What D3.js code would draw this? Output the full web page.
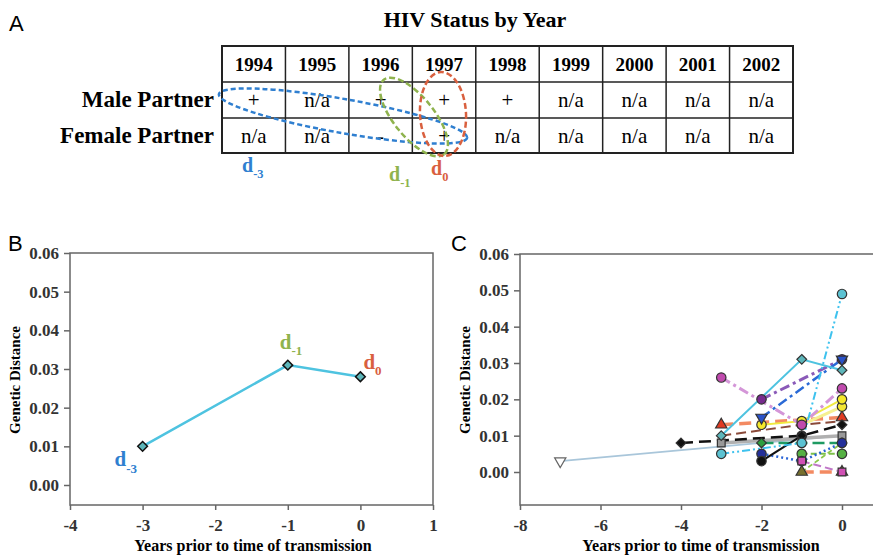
<!DOCTYPE html>
<html>
<head>
<meta charset="utf-8">
<script src="https://cdn.jsdelivr.net/npm/d3@7"></script>
<style>
  body { margin: 0; background: #fff; }
  svg { display: block; }
  text { font-family: 'Liberation Serif', 'DejaVu Serif', serif; }
  .panel-letter { font-family: 'Liberation Sans', Arial, sans-serif; font-size: 22px; }
</style>
</head>
<body>
<svg id="chart" width="873" height="555"></svg>
<script>
'use strict';

// ---- panel A: HIV status table
const years = ['1994', '1995', '1996', '1997', '1998', '1999', '2000', '2001', '2002'];
const rowLabels = ['Male Partner', 'Female Partner'];
const maleStatus = ['+', 'n/a', '+', '+', '+', 'n/a', 'n/a', 'n/a', 'n/a'];
const femaleStatus = ['n/a', 'n/a', '-', '+', 'n/a', 'n/a', 'n/a', 'n/a', 'n/a'];

// ---- panel B: one couple
const coupleYears = [-3, -1, 0];
const coupleDist = [0.010, 0.031, 0.028];
const coupleLabels = ['-3', '-1', '0'];

// ---- panel C: all couples, [years prior, genetic distance]
const cyanSolid = [[-3, 0.010], [-1, 0.031], [0, 0.028]];
const cyanDashDot = [[-3, 0.005], [-1, 0.008], [0, 0.049]];
const pinkDashDot = [[-3, 0.026], [-1, 0.013], [0, 0.023]];
const purpleDashDot = [[-2, 0.020], [0, 0.031]];
const blueDashDot = [[-2, 0.015], [0, 0.031]];
const yellowSolid = [[-2, 0.013], [-1, 0.014], [0, 0.020]];
const yellowLight = [[-1, 0.013], [0, 0.018]];
const orangeDash = [[-3, 0.013], [0, 0.015]];
const brownDash = [[-3, 0.010], [-1, 0.013], [0, 0.014]];
const blackDash = [[-4, 0.008], [-1, 0.010], [0, 0.013]];
const blackSolid = [[-2, 0.003], [-1, 0.010]];
const greySolid = [[-3, 0.008], [0, 0.010]];
const paleBlue = [[-7, 0.003], [0, 0.010]];
const greenDash = [[-2, 0.008], [0, 0.008]];
const lightGreenDash = [[-1, 0.005], [0, 0.005]];
const greenZigzag = [[-1, 0.000], [0, 0.008]];
const blueDotted = [[-2, 0.005], [-1, 0.003], [0, 0.008]];
const violetDash = [[-1, 0.003], [0, 0.000]];
const orangeBottom = [[-1, 0.000], [0, 0.000]];

const yTicks = [0, 0.01, 0.02, 0.03, 0.04, 0.05, 0.06];
const xTicksB = [-4, -3, -2, -1, 0, 1];
const xTicksC = [-8, -6, -4, -2, 0];

const colD3 = '#2f7fd0', colD1 = '#8fb34e', colD0 = '#d9603f';

// series -> style (draw order = list order)
const seriesC = [
  [paleBlue, { c: '#a9c6da', w: 1.8, dash: null, m: 'triDown', f: '#fff', only: [-7] }],
  [greySolid, { c: '#b0b0b0', w: 3.5, dash: null, m: 'square', f: '#999' }],
  [orangeBottom, { c: '#f38a62', w: 3.5, dash: '12,6', m: 'triUp', f: '#77702e' }],
  [orangeDash, { c: '#f38a62', w: 3.5, dash: '12,6', m: 'triUp', f: '#e03a22' }],
  [brownDash, { c: '#8a4a3a', w: 2, dash: '10,5', m: null }],
  [yellowLight, { c: '#f6f090', w: 3, dash: null, m: 'circle', f: '#f2e634' }],
  [yellowSolid, { c: '#f0ea40', w: 2, dash: null, m: 'circle', f: '#f5e82a' }],
  [greenDash, { c: '#1e9a62', w: 2.5, dash: '12,5', m: 'diamond', f: '#2e9e40' }],
  [lightGreenDash, { c: '#7cc04a', w: 2, dash: '6,3', m: 'circle', f: '#55b043' }],
  [greenZigzag, { c: '#8cc84c', w: 1.8, dash: '5,3', m: null }],
  [blueDotted, { c: '#2a64d6', w: 2.5, dash: '2,3', m: 'circle', f: '#24309a' }],
  [violetDash, { c: '#c078c8', w: 2, dash: '8,4', m: 'square', f: '#d050b4' }],
  [blackSolid, { c: '#111', w: 2, dash: null, m: 'circle', f: '#111' }],
  [blackDash, { c: '#111', w: 2.5, dash: '12,6', m: 'diamond', f: '#111' }],
  [pinkDashDot, { c: '#d496d8', w: 3, dash: '10,4,3,4', m: 'circle', f: '#c04aae' }],
  [purpleDashDot, { c: '#8a5ab8', w: 3, dash: '10,4,3,4', m: 'circle', f: '#782a8e' }],
  [blueDashDot, { c: '#2a6ad6', w: 2.5, dash: '10,4,3,4', m: 'triDown', f: '#2a52c8' }],
  [cyanDashDot, { c: '#3ec2ee', w: 2, dash: '8,3,2,3,2,3', m: 'circle', f: '#5cc2d2' }],
  [cyanSolid, { c: '#4ec3e0', w: 2, dash: null, m: 'diamond', f: '#5db6ba' }]
];

const svg = d3.select('#chart');

// ================= PANEL A =================
svg.append('text').attr('class', 'panel-letter').attr('x', 9).attr('y', 31).text('A');
svg.append('text')
  .attr('x', 475).attr('y', 27)
  .attr('text-anchor', 'middle')
  .style('font-weight', 'bold').style('font-size', '22px')
  .text('HIV Status by Year');

const tableX = d3.scaleBand().domain(years).range([222, 793]);
const rowEdges = [46, 82, 118, 153];
const table = svg.append('g');

table.append('rect')
  .attr('x', tableX.range()[0]).attr('y', rowEdges[0])
  .attr('width', tableX.range()[1] - tableX.range()[0])
  .attr('height', rowEdges[3] - rowEdges[0])
  .attr('fill', 'none').attr('stroke', '#222').attr('stroke-width', 2);
years.slice(1).forEach(y => {
  table.append('line')
    .attr('x1', tableX(y)).attr('x2', tableX(y))
    .attr('y1', rowEdges[0]).attr('y2', rowEdges[3])
    .attr('stroke', '#222').attr('stroke-width', 1.5);
});
rowEdges.slice(1, 3).forEach(r => {
  table.append('line')
    .attr('x1', tableX.range()[0]).attr('x2', tableX.range()[1])
    .attr('y1', r).attr('y2', r)
    .attr('stroke', '#222').attr('stroke-width', 1.5);
});

table.selectAll('.year')
  .data(years).enter().append('text')
  .attr('x', d => tableX(d) + tableX.bandwidth() / 2)
  .attr('y', (rowEdges[0] + rowEdges[1]) / 2 + 7)
  .attr('text-anchor', 'middle')
  .style('font-weight', 'bold').style('font-size', '19px')
  .text(d => d);

[maleStatus, femaleStatus].forEach((row, i) => {
  const cy = (rowEdges[i + 1] + rowEdges[i + 2]) / 2 + 7;
  table.append('text')
    .attr('x', 214).attr('y', cy)
    .attr('text-anchor', 'end')
    .style('font-weight', 'bold').style('font-size', '23px')
    .text(rowLabels[i]);
  table.selectAll('.cell' + i)
    .data(row).enter().append('text')
    .attr('x', (d, j) => tableX(years[j]) + tableX.bandwidth() / 2)
    .attr('y', cy)
    .attr('text-anchor', 'middle')
    .style('font-size', '21px')
    .text(d => d);
});

// ellipses marking d-3, d-1, d0
const ellipses = [
  { cx: 343, cy: 116, rx: 126, ry: 17, rot: 10, c: colD3, dash: '5,3' },
  { cx: 414, cy: 117, rx: 48, ry: 20, rot: 51, c: colD1, dash: '6,3' },
  { cx: 443, cy: 114, rx: 23, ry: 42, rot: -3, c: colD0, dash: '6,3' }
];
ellipses.forEach(e => {
  svg.append('ellipse')
    .attr('transform', `translate(${e.cx},${e.cy}) rotate(${e.rot})`)
    .attr('rx', e.rx).attr('ry', e.ry)
    .attr('fill', 'none').attr('stroke', e.c)
    .attr('stroke-width', 2.5).attr('stroke-dasharray', e.dash);
});

function dLabel(g, x, y, sub, color, size) {
  const t = g.append('text')
    .attr('x', x).attr('y', y)
    .attr('fill', color)
    .style('font-weight', 'bold').style('font-size', size + 'px');
  t.append('tspan').text('d');
  t.append('tspan').attr('dy', size * 0.3).style('font-size', (size * 0.62) + 'px').text(sub);
  return t;
}
dLabel(svg, 242, 172, '-3', colD3, 20);
dLabel(svg, 389, 181, '-1', colD1, 20);
dLabel(svg, 431, 175, '0', colD0, 20);

// ================= shared axes helper =================
function drawFrame(g, x, y, xTicks, left, top, right, bottom) {
  g.append('rect')
    .attr('x', left).attr('y', top)
    .attr('width', right - left).attr('height', bottom - top)
    .attr('fill', 'none').attr('stroke', '#666').attr('stroke-width', 1.5);

  const yAxis = g.append('g')
    .attr('transform', `translate(${left},0)`)
    .call(d3.axisLeft(y).tickValues(yTicks).tickFormat(d => d.toFixed(2)).tickSize(6).tickPadding(5));
  const xAxis = g.append('g')
    .attr('transform', `translate(0,${bottom})`)
    .call(d3.axisBottom(x).tickValues(xTicks).tickFormat(d => String(d)).tickSize(5).tickPadding(6));
  [yAxis, xAxis].forEach(a => {
    a.attr('font-family', null).attr('font-size', null);
    a.select('.domain').remove();
    a.selectAll('.tick line').attr('stroke', '#666').attr('stroke-width', 1.5);
    a.selectAll('.tick text')
      .attr('fill', '#333')
      .style('font-family', "'Liberation Serif', serif")
      .style('font-weight', 'bold')
      .style('font-size', '17px');
  });
  xAxis.selectAll('.tick text').attr('dy', '0.9em');
}

function axisTitles(g, yLabelX, yCenter, xCenter, xLabelY) {
  g.append('text')
    .attr('transform', `translate(${yLabelX},${yCenter}) rotate(-90)`)
    .attr('text-anchor', 'middle')
    .style('font-weight', 'bold').style('font-size', '15px')
    .text('Genetic Distance');
  g.append('text')
    .attr('x', xCenter).attr('y', xLabelY)
    .attr('text-anchor', 'middle')
    .style('font-weight', 'bold').style('font-size', '16px')
    .text('Years prior to time of transmission');
}

const symbols = {
  circle: d3.symbol().type(d3.symbolCircle).size(70),
  diamond: d3.symbol().type(d3.symbolDiamond2).size(60),
  square: d3.symbol().type(d3.symbolSquare).size(60),
  triUp: d3.symbol().type(d3.symbolTriangle).size(55)
};

function markerPath(kind) {
  if (kind === 'triDown') return symbols.triUp();
  return symbols[kind]();
}

// ================= PANEL B =================
svg.append('text').attr('class', 'panel-letter').attr('x', 8).attr('y', 251).text('B');
const gB = svg.append('g');
const xB = d3.scaleLinear().domain([-4, 1]).range([70, 433]);
const yB = d3.scaleLinear().domain([0, 0.06]).range([485, 253]);
drawFrame(gB, xB, yB, xTicksB, 70, 253, 433, 505);
axisTitles(gB, 20, 380, 253, 551);

const ptsB = coupleYears.map((v, i) => [xB(v), yB(coupleDist[i])]);
gB.append('path')
  .attr('d', d3.line()(ptsB))
  .attr('fill', 'none').attr('stroke', '#4ec3e0').attr('stroke-width', 2.5);
gB.selectAll('.mB').data(ptsB).enter().append('path')
  .attr('transform', d => `translate(${d[0]},${d[1]})`)
  .attr('d', symbols.diamond)
  .attr('fill', '#5db6ba').attr('stroke', '#111').attr('stroke-width', 1.5);

const labelOffsets = [[-28, 20], [-8, -16], [3, -8]];
const labelColors = [colD3, colD1, colD0];
ptsB.forEach((p, i) => {
  dLabel(gB, p[0] + labelOffsets[i][0], p[1] + labelOffsets[i][1], coupleLabels[i], labelColors[i], 21);
});

// ================= PANEL C =================
svg.append('text').attr('class', 'panel-letter').attr('x', 451).attr('y', 251).text('C');
const gC = svg.append('g');
const xC = d3.scaleLinear().domain([-8, 0]).range([520, 842]);
const yC = d3.scaleLinear().domain([0, 0.06]).range([472, 254]);
drawFrame(gC, xC, yC, xTicksC, 520, 254, 890, 505);
axisTitles(gC, 470, 380, 701, 551);

const line = d3.line().x(d => xC(d[0])).y(d => yC(d[1]));
seriesC.forEach(([pts, s]) => {
  gC.append('path')
    .attr('d', line(pts))
    .attr('fill', 'none')
    .attr('stroke', s.c).attr('stroke-width', s.w)
    .attr('stroke-dasharray', s.dash);
});
seriesC.forEach(([pts, s]) => {
  if (!s.m) return;
  const shown = s.only ? pts.filter(p => s.only.includes(p[0])) : pts;
  gC.selectAll(null).data(shown).enter().append('path')
    .attr('transform', d => `translate(${xC(d[0])},${yC(d[1])})` + (s.m === 'triDown' ? ' rotate(180)' : ''))
    .attr('d', markerPath(s.m))
    .attr('fill', s.f)
    .attr('stroke', s.m === 'triDown' && s.f === '#fff' ? '#666' : '#333')
    .attr('stroke-width', 1.2);
});
</script>
</body>
</html>
